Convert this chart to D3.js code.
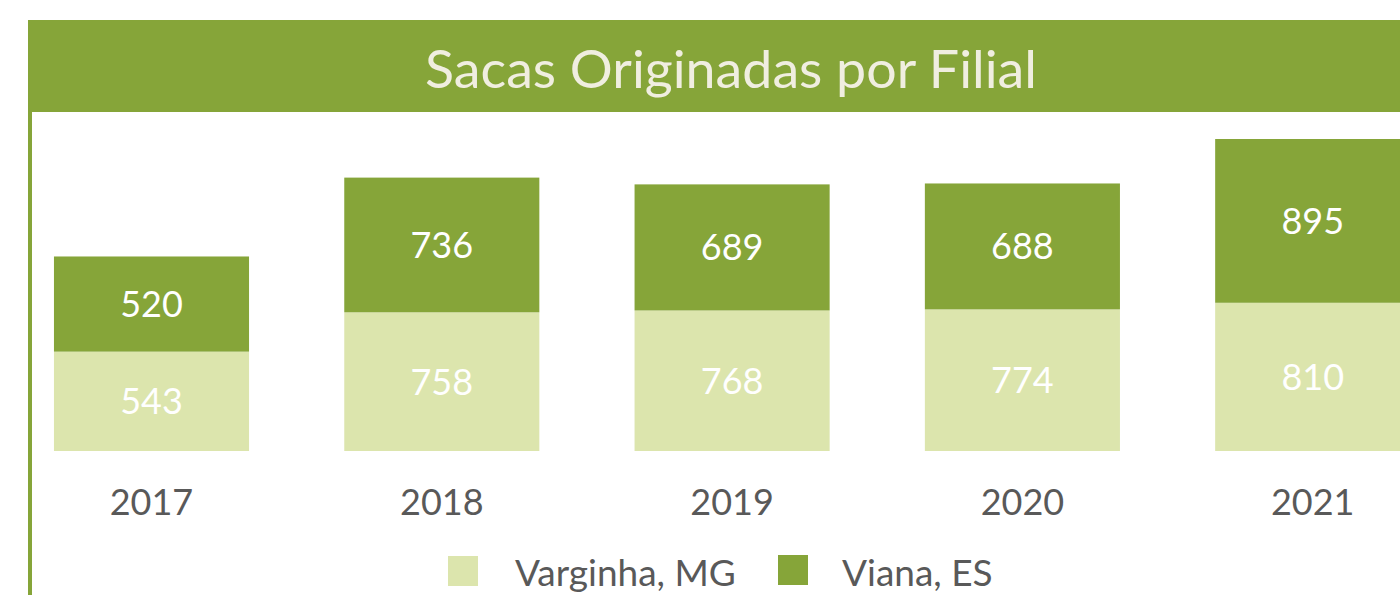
<!DOCTYPE html>
<html>
<head>
<meta charset="utf-8">
<script src="https://cdn.jsdelivr.net/npm/d3@7"></script>
<style>
  body { margin: 0; background: #fff; }
  svg { display: block; font-family: Lato, "Open Sans", sans-serif; }
  .title { fill: #f0eee0; font-size: 52px; }
  .val { fill: #fff; font-size: 36px; text-anchor: middle; }
  .axis text { fill: #595959; font-size: 36px; font-family: Lato, "Open Sans", sans-serif; }
  .legend text { fill: #595959; font-size: 37px; }
</style>
</head>
<body>
<div id="chart"></div>
<script>
var years    = ["2017", "2018", "2019", "2020", "2021"];
var varginha = [543, 758, 768, 774, 810];
var viana    = [520, 736, 689, 688, 895];
var seriesNames = ["Varginha, MG", "Viana, ES"];
var colors = ["#dce5ad", "#86a539"];

var W = 1400, H = 595, base = 451;

var svg = d3.select("#chart").append("svg")
    .attr("width", W)
    .attr("height", H);

// header band + left rule
svg.append("rect")
    .attr("x", 28).attr("y", 20)
    .attr("width", W - 28).attr("height", 92)
    .attr("fill", "#86a539");
svg.append("rect")
    .attr("x", 28).attr("y", 112)
    .attr("width", 4).attr("height", H - 112)
    .attr("fill", "#86a539");
svg.append("text")
    .attr("class", "title")
    .attr("x", 731).attr("y", 88)
    .attr("text-anchor", "middle")
    .attr("textLength", 612)
    .attr("lengthAdjust", "spacingAndGlyphs")
    .text("Sacas Originadas por Filial");

var data = years.map(function(y, i) {
  return {year: y, Varginha: varginha[i], Viana: viana[i]};
});

var stack = d3.stack().keys(["Varginha", "Viana"])(data);

var x = d3.scaleBand()
    .domain(years)
    .range([6.35, 1457.85])
    .paddingInner(0.328)
    .paddingOuter(0.164);

var y = d3.scaleLinear()
    .domain([0, d3.max(data, function(d) { return d.Varginha + d.Viana; })])
    .range([base, 139]);

var layer = svg.selectAll(".layer")
    .data(stack)
  .enter().append("g")
    .attr("class", "layer")
    .attr("fill", function(d, i) { return colors[i]; });

layer.selectAll("rect")
    .data(function(d) { return d; })
  .enter().append("rect")
    .attr("x", function(d) { return x(d.data.year); })
    .attr("y", function(d) { return y(d[1]); })
    .attr("width", x.bandwidth())
    .attr("height", function(d) { return y(d[0]) - y(d[1]); });

layer.selectAll("text")
    .data(function(d) { return d; })
  .enter().append("text")
    .attr("class", "val")
    .attr("x", function(d) { return x(d.data.year) + x.bandwidth() / 2; })
    .attr("y", function(d) { return (y(d[0]) + y(d[1])) / 2; })
    .attr("dy", "0.36em")
    .text(function(d) { return d[1] - d[0]; });

var xAxis = svg.append("g")
    .attr("class", "axis")
    .attr("transform", "translate(0," + base + ")")
    .call(d3.axisBottom(x).tickSize(0).tickPadding(38));
xAxis.select(".domain").remove();

// legend
var legend = svg.append("g").attr("class", "legend");
var lx = [448, 778], tx = [515, 842];
seriesNames.forEach(function(name, i) {
  legend.append("rect")
      .attr("x", lx[i]).attr("y", 556 - i)
      .attr("width", 30).attr("height", 30)
      .attr("fill", colors[i]);
  legend.append("text")
      .attr("x", tx[i]).attr("y", 586)
      .text(name);
});
</script>
</body>
</html>
